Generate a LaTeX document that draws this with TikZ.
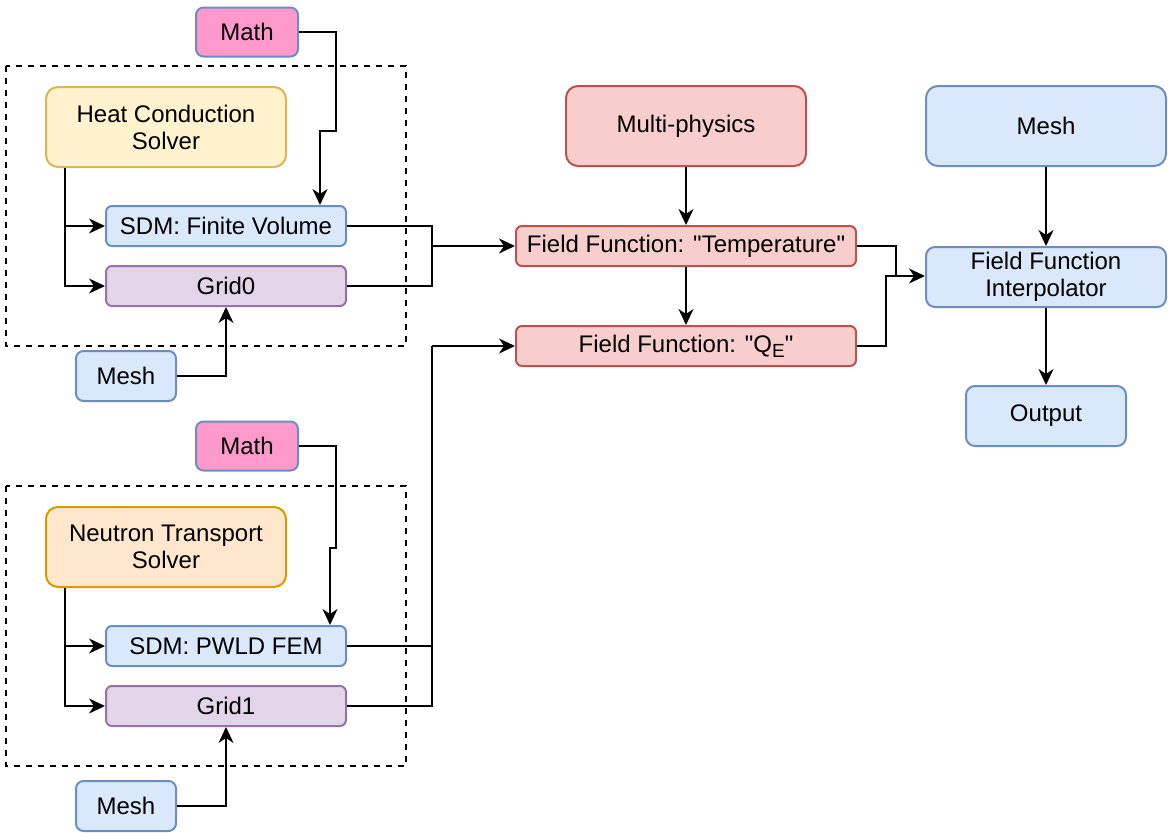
\documentclass[tikz,border=0pt]{standalone}
\usepackage{fontspec}
\setmainfont{Liberation Sans}
\newfontfamily\quotefont{Liberation Sans}
\usepackage{xcolor}
\usetikzlibrary{arrows.meta}

\definecolor{blueF}{HTML}{DAE8FC}
\definecolor{blueD}{HTML}{6C8EBF}
\definecolor{pinkF}{HTML}{FF99CC}
\definecolor{yellowF}{HTML}{FFF2CC}
\definecolor{yellowD}{HTML}{D6B656}
\definecolor{orangeF}{HTML}{FFE6CC}
\definecolor{orangeD}{HTML}{D79B00}
\definecolor{purpleF}{HTML}{E1D5E7}
\definecolor{purpleD}{HTML}{9673A6}
\definecolor{redF}{HTML}{F8CECC}
\definecolor{redD}{HTML}{B85450}

\tikzset{
  box/.style={draw, line width=1pt, inner sep=0pt, align=center,
    font=\fontsize{12pt}{13.5pt}\selectfont},
  bigbox/.style={box, minimum width=120pt, minimum height=40pt, rounded corners=6pt},
  slim/.style={box, minimum width=120pt, minimum height=20pt, rounded corners=3pt},
  mathbox/.style={box, fill=pinkF, draw=blueD, minimum width=51pt, minimum height=24.5pt, rounded corners=3.75pt},
  meshbox/.style={box, fill=blueF, draw=blueD, minimum width=50pt, minimum height=25pt, rounded corners=3.75pt},
  arr/.style={line width=1pt, -{Stealth[length=8pt, width=7.5pt, inset=2.5pt]}},
  wire/.style={line width=1pt},
  group/.style={line width=0.8pt, dash pattern=on 3pt off 3pt}
}
\newcommand{\qt}{{\quotefont"}}

\begin{document}
\begin{tikzpicture}[x=0.5pt, y=-0.5pt]
  \useasboundingbox (0,0) rectangle (1172,836);

  % heat conduction part
  \draw[group] (6,66) rectangle (406,346);
  \node (math0) at (247,32) [mathbox] {Math};
  \node (heat) at (166,127) [bigbox, fill=yellowF, draw=yellowD] {Heat Conduction\\Solver};
  \node (sdm0) at (226,226) [slim, fill=blueF, draw=blueD] {SDM: Finite Volume};
  \node (grid0) at (226,286) [slim, fill=purpleF, draw=purpleD] {Grid0};
  \node (mesh0) at (126,376) [meshbox] {Mesh};

  % neutron transport part
  \draw[group] (6,486) rectangle (406,766);
  \node (math1) at (247,446) [mathbox] {Math};
  \node (neutron) at (166,547) [bigbox, fill=orangeF, draw=orangeD] {Neutron Transport\\Solver};
  \node (sdm1) at (226,646) [slim, fill=blueF, draw=blueD] {SDM: PWLD FEM};
  \node (grid1) at (226,706) [slim, fill=purpleF, draw=purpleD] {Grid1};
  \node (mesh1) at (126,806) [meshbox] {Mesh};

  % coupling
  \node (multi) at (686,126) [bigbox, fill=redF, draw=redD] {Multi-physics};
  \node (fftemp) at (686,246) [box, minimum width=170pt, minimum height=20pt, rounded corners=3pt, fill=redF, draw=redD] {Field Function: \qt Temperature\qt};
  \node (ffq) at (686,346) [box, minimum width=170pt, minimum height=20pt, rounded corners=3pt, fill=redF, draw=redD] {Field Function: \qt Q\raisebox{-2.5pt}{\fontsize{9.5pt}{10pt}\selectfont E}\qt};
  \node (mesh2) at (1046,126) [bigbox, fill=blueF, draw=blueD] {Mesh};
  \node (interp) at (1046,277) [box, minimum width=120pt, minimum height=30pt, rounded corners=4.5pt, fill=blueF, draw=blueD] {Field Function\\Interpolator};
  \node (out) at (1046,416) [box, minimum width=80pt, minimum height=30pt, rounded corners=4.5pt, fill=blueF, draw=blueD] {Output};

  \coordinate (bend0) at (320,131);
  \coordinate (bend1) at (330,548);
  \coordinate (join0) at (432,246);
  \coordinate (join1) at (432,346);
  \coordinate (joinT) at (896,276);
  \coordinate (joinQ) at (886,276);

  \draw[arr] (math0.east) -| (336,131) -- (bend0) -- (bend0 |- sdm0.north);
  \draw[arr] ([xshift=10pt]heat.south west) |- (sdm0.west);
  \draw[arr] ([xshift=10pt]heat.south west) |- (grid0.west);
  \draw[arr] (mesh0.east) -| (grid0.south);
  \draw[wire] (sdm0.east) -| (join0);
  \draw[wire] (grid0.east) -| (join0);
  \draw[arr] (join0) -- (fftemp.west);

  \draw[arr] (math1.east) -| (336,548) -- (bend1) -- (bend1 |- sdm1.north);
  \draw[arr] ([xshift=10pt]neutron.south west) |- (sdm1.west);
  \draw[arr] ([xshift=10pt]neutron.south west) |- (grid1.west);
  \draw[arr] (mesh1.east) -| (grid1.south);
  \draw[wire] (sdm1.east) -| (join1);
  \draw[wire] (grid1.east) -| (join1);
  \draw[arr] (join1) -- (ffq.west);

  \draw[arr] (multi) -- (fftemp);
  \draw[arr] (fftemp) -- (ffq);
  \draw[wire] (ffq.east) -| (joinQ) -- (joinT);
  \draw[arr] (fftemp.east) -| (joinT) -- (joinT -| interp.west);
  \draw[arr] (mesh2) -- (interp);
  \draw[arr] (interp) -- (out);
\end{tikzpicture}
\end{document}
